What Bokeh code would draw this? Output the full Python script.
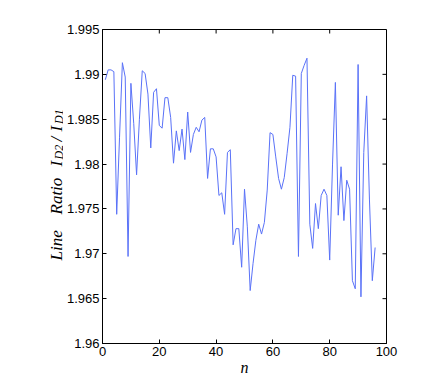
import math
from bokeh.plotting import figure
from bokeh.models import Range1d, FixedTicker
from bokeh.layouts import row
from bokeh.core.properties import value
from bokeh.embed import file_html
from bokeh.resources import INLINE

n_values = list(range(1, 97))
line_ratio = [
    1.9894, 1.9905, 1.9905, 1.9903, 1.9744, 1.9830, 1.9913, 1.9897, 1.9697, 1.9890,
    1.9845, 1.9788, 1.9850, 1.9904, 1.9901, 1.9878, 1.9818, 1.9880, 1.9884, 1.9843,
    1.9840, 1.9874, 1.9874, 1.9852, 1.9801, 1.9837, 1.9815, 1.9839, 1.9805, 1.9858,
    1.9813, 1.9833, 1.9841, 1.9836, 1.9849, 1.9852, 1.9784, 1.9817, 1.9817, 1.9808,
    1.9765, 1.9768, 1.9744, 1.9813, 1.9816, 1.9710, 1.9728, 1.9728, 1.9685, 1.9772,
    1.9730, 1.9659, 1.9689, 1.9715, 1.9733, 1.9722, 1.9735, 1.9771, 1.9835, 1.9833,
    1.9808, 1.9784, 1.9772, 1.9785, 1.9812, 1.9841, 1.9899, 1.9898, 1.9697, 1.9901,
    1.9910, 1.9918, 1.9733, 1.9706, 1.9756, 1.9728, 1.9765, 1.9772, 1.9765, 1.9693,
    1.9800, 1.9891, 1.9743, 1.9797, 1.9737, 1.9782, 1.9772, 1.9670, 1.9661, 1.9911,
    1.9652, 1.9813, 1.9876, 1.9760, 1.9670, 1.9707,
]

x_ticks = [0, 20, 40, 60, 80, 100]
y_ticks = [1.96, 1.965, 1.97, 1.975, 1.98, 1.985, 1.99, 1.995]
y_tick_labels = ["1.96", "1.965", "1.97", "1.975", "1.98", "1.985", "1.99", "1.995"]
x_label = "n"
y_label_main = ["Line", "Ratio", "I", "/", "I"]
y_label_sub = ["D2", "D1"]

X0, X1 = 0, 100
Y0, Y1 = 1.96, 1.995

H = 382
FRAME_W, FRAME_H = 285, 314
STRIP_W = 63
B_LEFT, B_RIGHT, B_TOP = 38, 34, 29
B_BOTTOM = H - B_TOP - FRAME_H
MAIN_W = B_LEFT + FRAME_W + B_RIGHT
K = (Y1 - Y0) / FRAME_H  # data units per vertical pixel


def ypx(page_y):
    """vertical pixel position (from top) -> y data value"""
    return Y1 - (page_y - B_TOP) * K


yr = Range1d(Y0, Y1)

# ---- main plot ----
p = figure(width=MAIN_W, height=H, output_backend="svg", toolbar_location=None,
           x_range=Range1d(X0, X1), y_range=yr,
           min_border_left=B_LEFT, min_border_right=B_RIGHT, min_border_top=B_TOP,
           min_border_bottom=B_BOTTOM)
p.background_fill_color = "white"
p.border_fill_color = "white"
p.outline_line_color = "black"
p.grid.visible = False

p.line(n_values, line_ratio, line_color="#5a72f8", line_width=1)

for ax in [p.xaxis[0], p.yaxis[0]]:
    ax.major_tick_in = 4
    ax.major_tick_out = 0
    ax.minor_tick_line_color = None
    ax.axis_line_color = "black"
    ax.major_tick_line_color = "black"
    ax.major_label_text_font = "Liberation Sans"
    ax.major_label_text_font_size = "13px"
    ax.major_label_text_color = "black"
    ax.major_label_standoff = 3

p.xaxis.ticker = FixedTicker(ticks=x_ticks)
p.yaxis.ticker = FixedTicker(ticks=y_ticks)
p.yaxis.major_label_overrides = {t: s for t, s in zip(y_ticks, y_tick_labels)}

p.xaxis.axis_label = x_label
p.xaxis.axis_label_text_font = "Liberation Serif"
p.xaxis.axis_label_text_font_style = "italic"
p.xaxis.axis_label_text_font_size = "16px"
p.xaxis.axis_label_text_color = "black"
p.xaxis.axis_label_standoff = 0

# inward ticks on top and right edges (box on)
tly = (Y1 - Y0) / FRAME_H * 4
tlx = (X1 - X0) / FRAME_W * 4
p.segment(x0=x_ticks, y0=[Y1] * len(x_ticks), x1=x_ticks, y1=[Y1 - tly] * len(x_ticks),
          line_color="black", line_width=1)
p.segment(x0=[X1] * len(y_ticks), y0=y_ticks, x1=[X1 - tlx] * len(y_ticks), y1=y_ticks,
          line_color="black", line_width=1)

# ---- left strip holding the rotated y label (same vertical frame as the main plot) ----
lp = figure(width=STRIP_W, height=H, output_backend="svg", toolbar_location=None,
            x_range=Range1d(0, STRIP_W), y_range=yr,
            min_border_left=0, min_border_right=0,
            min_border_top=B_TOP, min_border_bottom=B_BOTTOM)
lp.axis.visible = False
lp.grid.visible = False
lp.outline_line_color = None
lp.background_fill_color = "white"
lp.border_fill_color = "white"

lp.text(x=[56] * 5, y=[ypx(v) for v in (260, 214, 166, 141, 131)], text=y_label_main,
        angle=math.pi / 2, text_align="left", text_baseline="alphabetic",
        text_font=value("Liberation Serif"), text_font_style="italic",
        text_font_size="17px", text_color="black")
lp.text(x=[58.5] * 2, y=[ypx(v) for v in (159, 123.5)], text=y_label_sub,
        angle=math.pi / 2, text_align="left", text_baseline="alphabetic",
        text_font=value("Liberation Serif"), text_font_style="italic",
        text_font_size="12px", text_color="black")

layout = row(lp, p)
open("out.html", "w").write(file_html(layout, INLINE))
